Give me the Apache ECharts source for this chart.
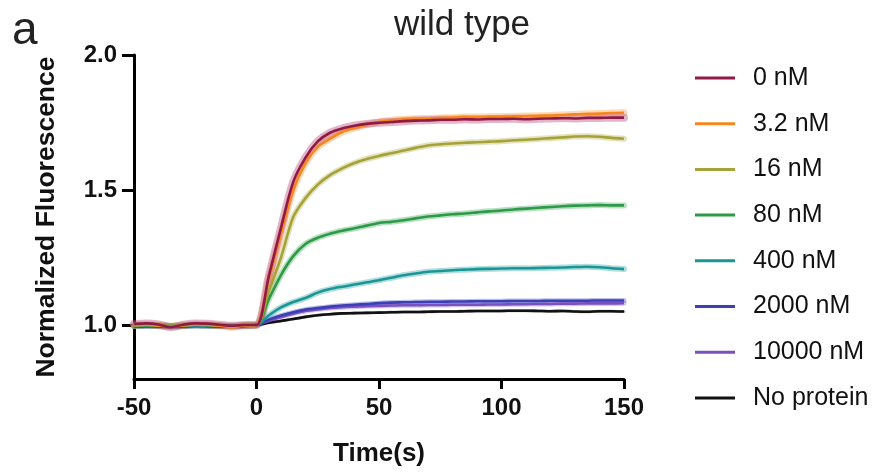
<!DOCTYPE html>
<html>
<head>
<meta charset="utf-8">
<script src="https://cdn.jsdelivr.net/npm/echarts@6/dist/echarts.min.js"></script>
<style>
html,body{margin:0;padding:0;background:#fff;}
#chart{width:880px;height:472px;}
</style>
</head>
<body>
<div id="chart"></div>
<script>
// ---- data ----
const time = [-50,-45,-40,-35,-30,-25,-20,-15,-10,-5,0,5,10,15,20,25,30,35,40,45,50,55,60,65,70,75,80,85,90,95,100,105,110,115,120,125,130,135,140,145,150];
const seriesNames = ['0 nM','3.2 nM','16 nM','80 nM','400 nM','2000 nM','10000 nM','No protein'];
const nM0 = [1.004,1.006,1.002,0.992,1.001,1.006,1.005,1.001,0.997,1.000,1.000,
  1.18,1.36,1.53,1.62,1.68,1.712,1.728,1.738,1.745,1.749,1.752,1.755,1.757,1.758,1.760,1.760,1.762,1.761,1.763,1.763,1.764,1.762,1.764,1.765,1.766,1.765,1.767,1.767,1.768,1.768];
const nM3_2 = [1.000,1.002,0.998,0.995,0.999,1.003,1.002,0.997,0.992,0.998,1.000,
  1.17,1.34,1.50,1.60,1.66,1.69,1.715,1.73,1.742,1.752,1.758,1.762,1.764,1.765,1.767,1.768,1.770,1.770,1.771,1.772,1.773,1.774,1.775,1.776,1.778,1.780,1.782,1.783,1.785,1.786];
const nM16 = [0.998,1.000,0.999,0.997,0.998,1.001,1.000,0.998,0.996,0.999,1.000,
  1.125,1.25,1.40,1.47,1.52,1.555,1.58,1.60,1.615,1.626,1.636,1.646,1.656,1.665,1.669,1.672,1.675,1.677,1.679,1.681,1.684,1.686,1.689,1.692,1.695,1.698,1.699,1.697,1.693,1.690];
const nM80 = [0.997,0.999,0.998,0.996,0.998,1.000,0.999,0.998,0.997,0.999,1.000,
  1.095,1.185,1.255,1.30,1.323,1.338,1.349,1.358,1.368,1.378,1.382,1.388,1.395,1.402,1.406,1.410,1.413,1.417,1.421,1.424,1.428,1.431,1.434,1.437,1.440,1.442,1.443,1.444,1.443,1.443];
const nM400 = [0.996,0.998,0.997,0.996,0.997,0.999,0.998,0.997,0.996,0.998,1.000,
  1.035,1.065,1.085,1.10,1.12,1.133,1.142,1.150,1.158,1.166,1.175,1.184,1.191,1.197,1.200,1.203,1.205,1.207,1.208,1.209,1.210,1.210,1.211,1.212,1.213,1.215,1.216,1.214,1.210,1.207];
const nM2000 = [0.994,0.995,0.994,0.993,0.994,0.996,0.995,0.994,0.994,0.996,1.000,
  1.02,1.035,1.047,1.057,1.063,1.068,1.072,1.075,1.078,1.081,1.083,1.084,1.085,1.086,1.086,1.087,1.087,1.088,1.088,1.088,1.089,1.089,1.089,1.090,1.090,1.090,1.090,1.091,1.091,1.091];
const nM10000 = [0.995,0.996,0.995,0.994,0.995,0.997,0.996,0.995,0.995,0.997,1.000,
  1.015,1.03,1.042,1.052,1.058,1.063,1.066,1.068,1.070,1.071,1.072,1.073,1.073,1.074,1.074,1.075,1.075,1.075,1.076,1.076,1.077,1.077,1.078,1.078,1.079,1.079,1.080,1.080,1.080,1.081];
const noProtein = [0.996,0.997,0.996,0.995,0.996,0.998,0.997,0.996,0.996,0.998,1.000,
  1.008,1.015,1.022,1.030,1.036,1.040,1.043,1.044,1.045,1.046,1.047,1.048,1.048,1.049,1.050,1.050,1.051,1.052,1.052,1.052,1.053,1.053,1.052,1.051,1.052,1.050,1.049,1.051,1.051,1.050];
const xTicks = [-50,0,50,100,150];
const yTicks = [1.0,1.5,2.0];

// ---- styles ----
const allData = [nM0,nM3_2,nM16,nM80,nM400,nM2000,nM10000,noProtein];
const colors = ['#8E1B45','#F7861E','#A5A337','#2E9A48','#1C9595','#3B3FB5','#7A4FBF','#111111'];
const bandColors = ['#B8457A','#F9A04A','#B8B65A','#4CAE64','#3AAAAA','#5A5EC4','#9270CC','#333333'];
const bandWidths = [8,7,6,6,6,5,5,3];
const FONT = '"Liberation Sans", Arial, sans-serif';

const series = [];
// draw order: later ones on top; 0 nM drawn last
const order = [7,6,5,4,3,2,1,0];
order.forEach(i => {
  series.push({
    name: seriesNames[i], type: 'line', z: 2, silent: true,
    data: time.map((t, k) => [t, allData[i][k]]),
    showSymbol: false, smooth: 0.3,
    lineStyle: {color: bandColors[i], width: bandWidths[i], opacity: 0.4, cap: 'round', join: 'round'},
    itemStyle: {color: colors[i]}
  });
});
order.forEach(i => {
  series.push({
    name: seriesNames[i], type: 'line', z: 3,
    data: time.map((t, k) => [t, allData[i][k]]),
    showSymbol: false, smooth: 0.3,
    lineStyle: {color: colors[i], width: 2.6, join: 'round'},
    itemStyle: {color: colors[i]}
  });
});

const chart = echarts.init(document.getElementById('chart'), null, {renderer: 'canvas'});
chart.setOption({
  backgroundColor: '#ffffff',
  animation: false,
  grid: {left: 134, right: 256, top: 55, bottom: 89, containLabel: false},
  xAxis: {
    type: 'value', min: -50, max: 150, interval: 50,
    name: 'Time(s)', nameLocation: 'middle', nameGap: 62,
    nameTextStyle: {fontFamily: FONT, fontWeight: 'bold', fontSize: 26, color: '#111'},
    axisLine: {onZero: false, lineStyle: {color: '#000', width: 3}},
    axisTick: {length: 10, lineStyle: {color: '#000', width: 3}, customValues: xTicks},
    axisLabel: {fontFamily: FONT, fontWeight: 'bold', fontSize: 24, color: '#111', margin: 17, customValues: xTicks},
    splitLine: {show: false}
  },
  yAxis: {
    type: 'value', min: 0.8, max: 2.0,
    name: 'Normalized Fluorescence', nameLocation: 'middle', nameGap: 74, nameRotate: 90,
    nameTextStyle: {fontFamily: FONT, fontWeight: 'bold', fontSize: 26.5, color: '#111'},
    axisLine: {show: true, onZero: false, lineStyle: {color: '#000', width: 3}},
    axisTick: {show: true, length: 12, lineStyle: {color: '#000', width: 3}, customValues: yTicks},
    axisLabel: {fontFamily: FONT, fontWeight: 'bold', fontSize: 24, color: '#111', margin: 17,
      customValues: yTicks, formatter: v => v.toFixed(1)},
    splitLine: {show: false}
  },
  legend: {
    data: seriesNames, orient: 'vertical', left: 695, top: 65, padding: 0,
    icon: 'rect', itemWidth: 40, itemHeight: 3, itemGap: 19.7,
    textStyle: {fontFamily: FONT, fontSize: 25, color: '#111', lineHeight: 26, padding: [0,0,0,13]}
  },
  graphic: [
    {type: 'text', left: 12, top: 8, style: {text: 'a', font: '46px ' + FONT, fill: '#222'}},
    {type: 'text', x: 462, y: 25, style: {text: 'wild type', font: '35px ' + FONT, fill: '#222', textAlign: 'center', textVerticalAlign: 'middle'}}
  ],
  series: series
});
</script>
</body>
</html>
